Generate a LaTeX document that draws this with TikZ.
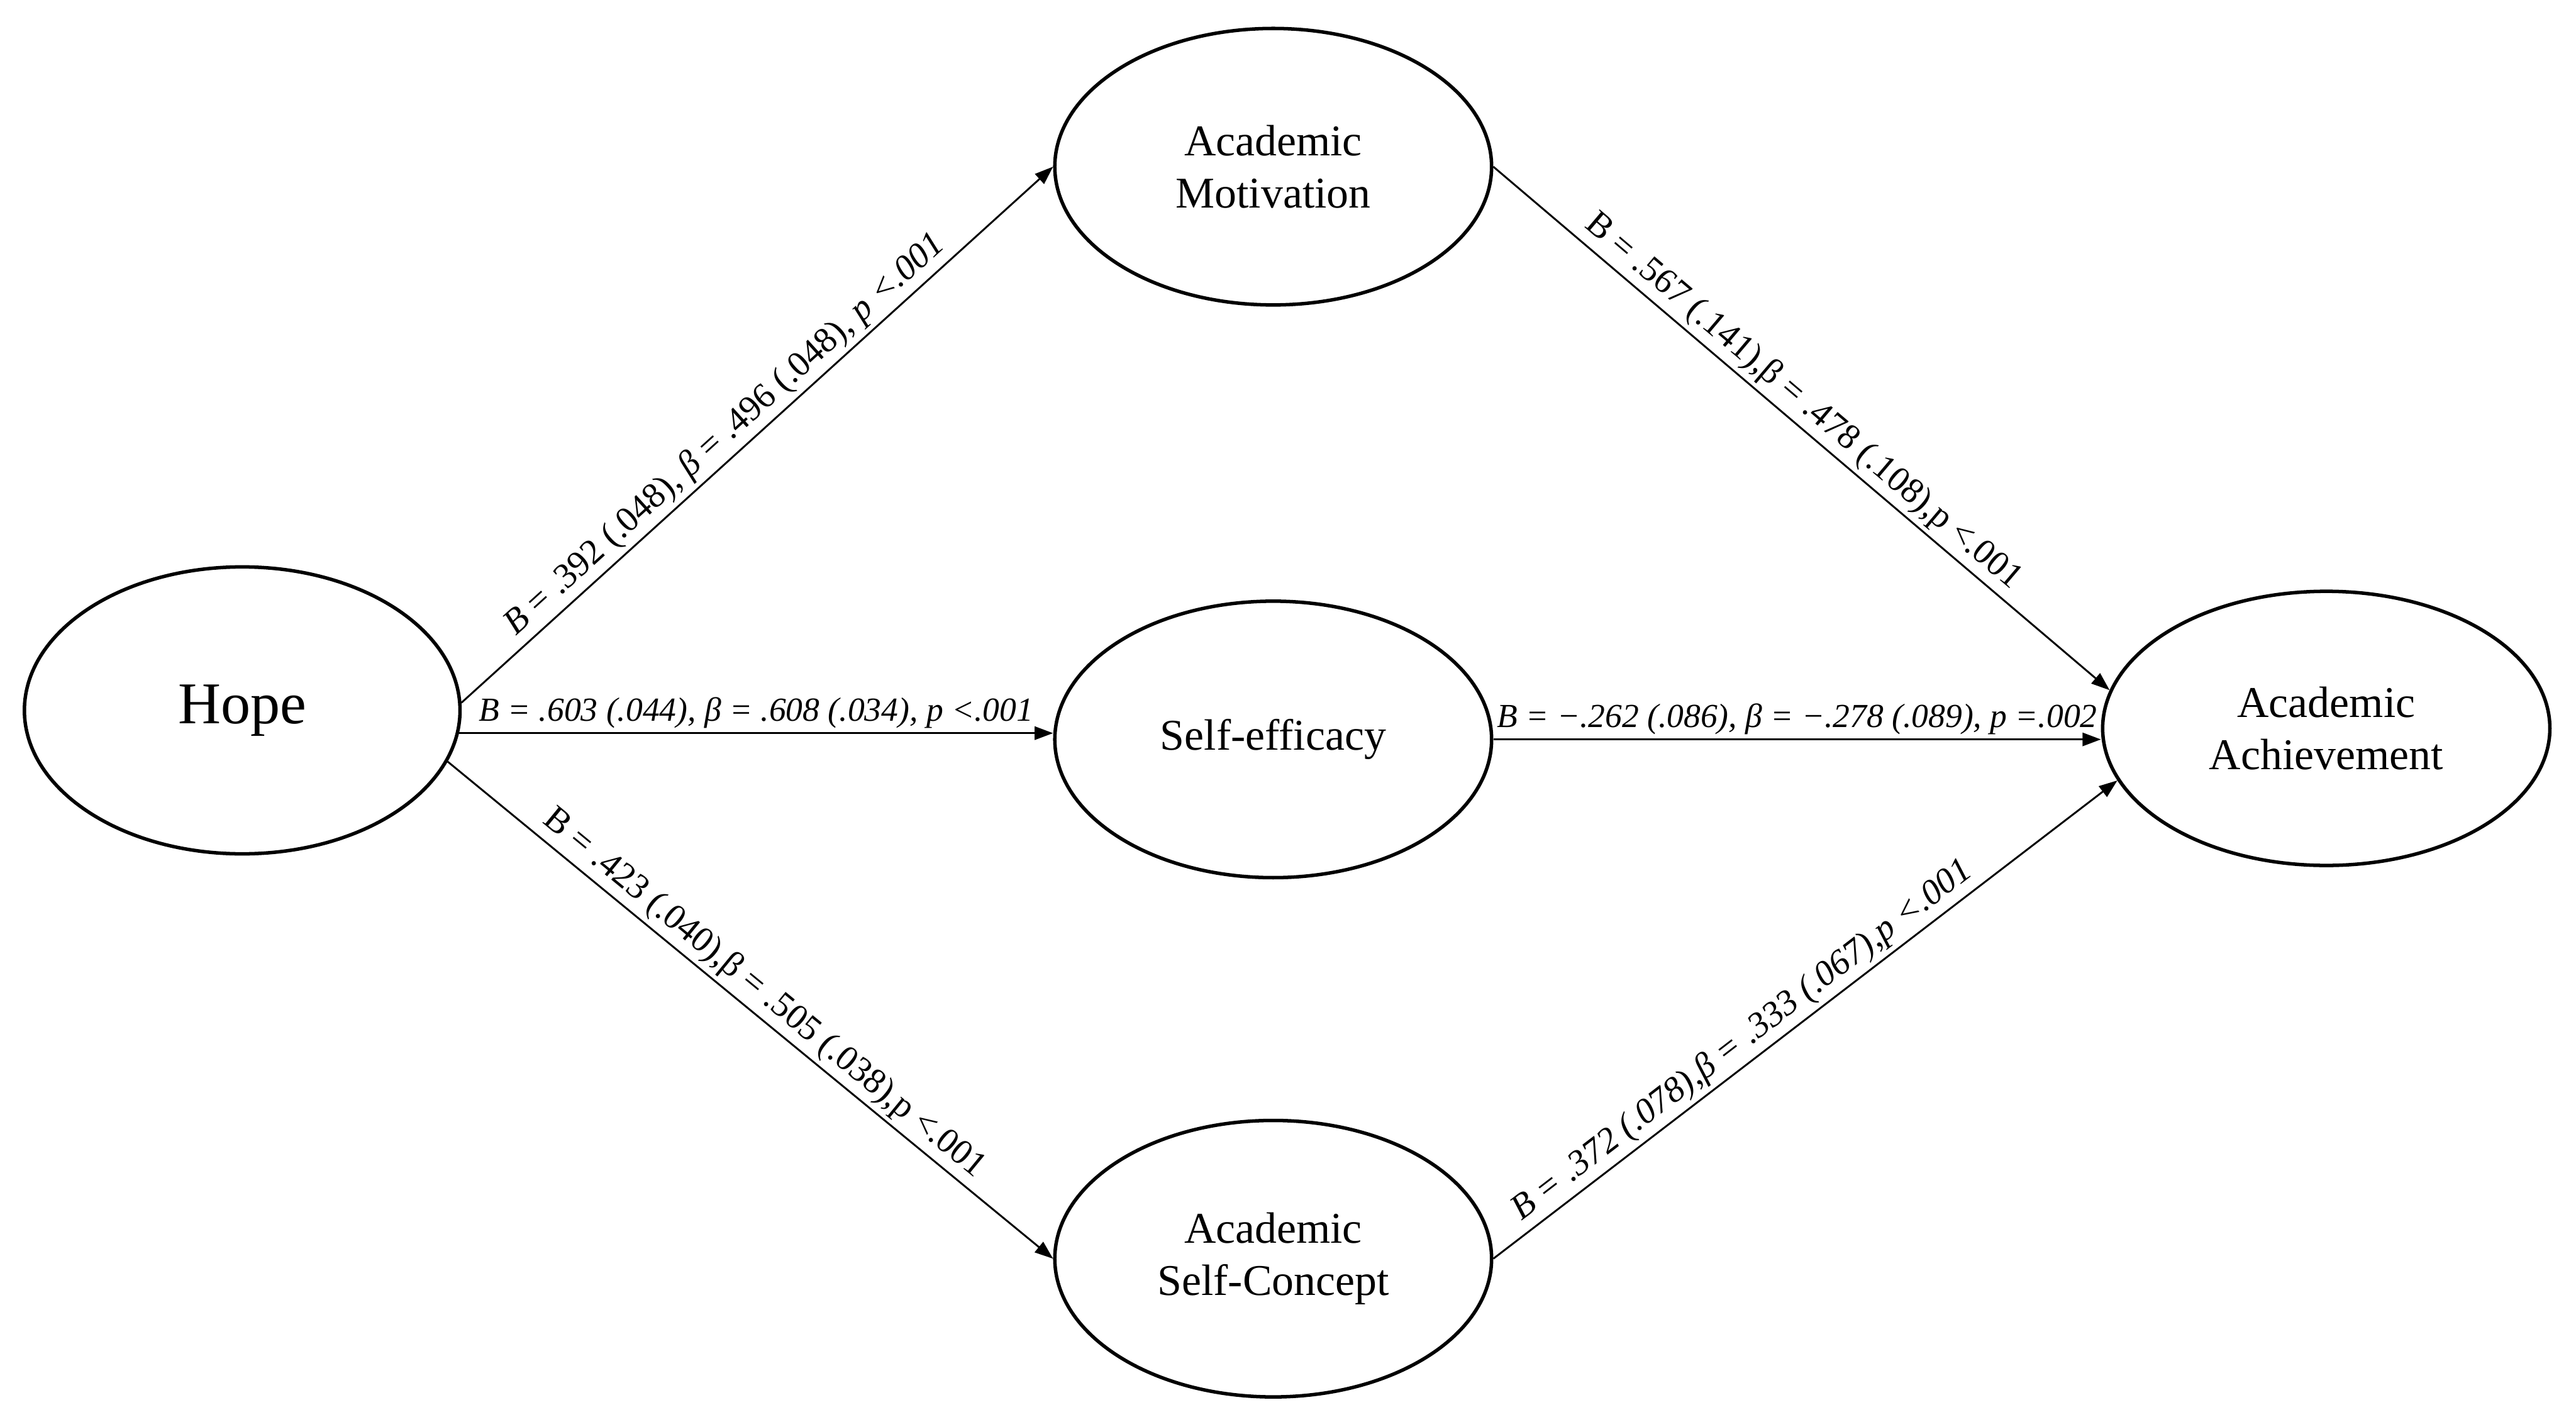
\documentclass[tikz,border=0pt]{standalone}
\usepackage{fontspec}
\setmainfont{Liberation Serif}
\usetikzlibrary{arrows.meta,positioning,shapes.geometric}

\begin{document}
\begin{tikzpicture}[
  latent/.style={draw=black, ellipse, line width=1.7pt, minimum width=7.52cm, minimum height=4.76cm, align=center, inner sep=0pt, font=\fontsize{21.5}{25.6}\selectfont},
  arr/.style={-{Triangle[length=9pt, width=6.5pt]}, draw=black, line width=0.9pt},
  coef/.style={sloped, above, inner sep=2pt, font=\fontsize{16.5}{20}\selectfont},
  coefd/.style={coef, font=\fontsize{17.5}{21}\selectfont},
]
\useasboundingbox (0,0) rectangle (44.35,24.48);
\node[latent, minimum width=7.5cm, minimum height=4.94cm, font=\fontsize{29}{34}\selectfont] (hope) at (4.17,12.25) {Hope};
\node[latent] (eff) at (21.92,11.75) {Self-efficacy};
\node[latent, above=5.04cm of eff] (mot) {Academic\\Motivation};
\node[latent, below=4.12cm of eff] (con) {Academic\\Self-Concept};
\node[latent, minimum width=7.7cm, minimum height=4.72cm] (ach) at (40.05,11.94) {Academic\\Achievement};
% paths from hope
\draw[arr] (hope.2) -- node[coefd, pos=0.47] {\textit{B} = .392 (.048), \textit{β} = .496 (.048), \textit{p <.001}} (mot.west);
\draw[arr] (hope.-6) -- node[coef] {\textit{B = .603 (.044), β = .608 (.034), p <.001}} (hope.-6 -| eff.west);
\draw[arr] (hope.-14) -- node[coefd] {B = .423 (.040),β = .505 (.038),p <.001} (con.west);
% paths to achievement
\draw[arr] (mot.east) -- node[coefd, pos=0.48] {B = .567 (.141),β = .478 (.108),p <.001} (ach.170);
\draw[arr] (eff.east) -- node[coef] {\textit{B = −.262 (.086), β = −.278 (.089), p =.002}} (eff.east -| ach.west);
\draw[arr] (con.east) -- node[coefd, pos=0.42] {\textit{B = .372 (.078),β = .333 (.067),p <.001}} (ach.194);
\end{tikzpicture}
\end{document}
